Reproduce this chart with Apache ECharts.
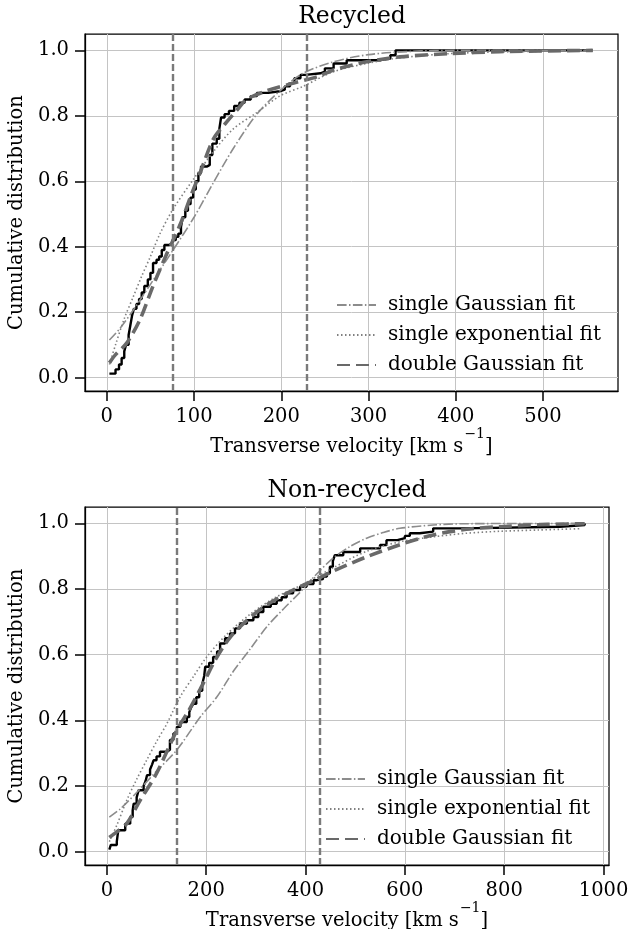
<!DOCTYPE html>
<html><head><meta charset="utf-8">
<script src="https://cdn.jsdelivr.net/npm/echarts@6/dist/echarts.min.js"></script>
<style>html,body{margin:0;padding:0;background:#fff}#c{width:642px;height:929px}</style>
</head><body><div id="c"></div>
<script>
const FONT = '"DejaVu Serif", serif';
const titles = ['Recycled', 'Non-recycled'];
const legendNames = ['single Gaussian fit', 'single exponential fit', 'double Gaussian fit'];
const yTicks = [0, 0.2, 0.4, 0.6, 0.8, 1.0];
const recXTicks = [0, 100, 200, 300, 400, 500];
const nonXTicks = [0, 200, 400, 600, 800, 1000];
const recVLines = [76, 229];
const nonVLines = [140, 428];

// Recycled: empirical CDF (step points) and fits
const recEcdf = [[3,0.012],[10,0.025],[14,0.04],[17,0.06],[20,0.08],[22,0.10],[25,0.13],[27,0.16],[29,0.19],[31,0.21],[34,0.225],[37,0.24],[40,0.26],[43,0.28],[47,0.30],[50,0.32],[53,0.35],[57,0.36],[60,0.37],[63,0.39],[66,0.405],[71,0.41],[75,0.42],[79,0.43],[82,0.44],[85,0.46],[87,0.49],[90,0.51],[93,0.53],[96,0.55],[99,0.575],[102,0.60],[105,0.625],[108,0.645],[115,0.65],[118,0.68],[121,0.715],[126,0.73],[129,0.76],[131,0.795],[135,0.805],[140,0.815],[146,0.83],[152,0.84],[158,0.85],[165,0.86],[172,0.87],[185,0.875],[198,0.88],[204,0.89],[210,0.90],[215,0.915],[222,0.925],[228,0.93],[245,0.935],[250,0.945],[260,0.96],[275,0.97],[314,0.975],[325,0.985],[331,1.0],[557,1.0]];
const recGauss = [[3,0.115],[15,0.15],[30,0.205],[50,0.285],[76,0.39],[100,0.49],[122,0.595],[145,0.70],[172,0.805],[200,0.88],[225,0.93],[260,0.965],[300,0.987],[350,0.997],[400,1.0],[557,1.0]];
const recExp = [[3,0.04],[10,0.10],[20,0.18],[30,0.245],[40,0.31],[50,0.37],[61,0.44],[76,0.515],[99,0.605],[122,0.69],[145,0.76],[172,0.81],[198,0.86],[225,0.89],[260,0.935],[298,0.96],[336,0.977],[393,0.99],[450,0.995],[557,0.999]];
const recDbl = [[3,0.045],[10,0.07],[23,0.106],[38,0.177],[53,0.28],[69,0.38],[76,0.42],[86,0.48],[97,0.56],[107,0.626],[122,0.728],[137,0.78],[150,0.82],[160,0.85],[183,0.876],[214,0.90],[242,0.92],[260,0.94],[298,0.965],[336,0.98],[393,0.99],[450,0.996],[557,1.0]];

// Non-recycled
const nonEcdf = [[5,0.006],[8,0.02],[20,0.03],[23,0.065],[37,0.085],[47,0.105],[52,0.125],[54,0.146],[60,0.165],[64,0.187],[74,0.2],[78,0.215],[81,0.233],[87,0.25],[91,0.265],[94,0.278],[100,0.29],[107,0.304],[121,0.31],[127,0.34],[134,0.36],[141,0.38],[148,0.395],[161,0.41],[166,0.425],[170,0.44],[174,0.45],[180,0.47],[186,0.49],[192,0.51],[196,0.535],[198,0.563],[206,0.575],[214,0.593],[222,0.61],[228,0.634],[238,0.65],[248,0.665],[258,0.68],[268,0.695],[282,0.705],[295,0.715],[305,0.73],[315,0.746],[330,0.755],[342,0.766],[352,0.775],[362,0.787],[375,0.797],[389,0.807],[402,0.815],[416,0.827],[423,0.83],[435,0.838],[443,0.848],[449,0.868],[455,0.885],[459,0.903],[476,0.913],[510,0.924],[550,0.934],[563,0.949],[585,0.955],[600,0.962],[610,0.97],[630,0.975],[657,0.985],[717,0.99],[912,0.995],[962,1.0]];
const nonGauss = [[5,0.105],[27,0.13],[60,0.18],[100,0.245],[141,0.31],[188,0.41],[221,0.47],[255,0.55],[290,0.62],[322,0.685],[356,0.74],[389,0.79],[422,0.845],[456,0.895],[490,0.93],[523,0.955],[556,0.972],[590,0.985],[657,0.995],[720,0.999],[962,1.0]];
const nonExp = [[5,0.03],[20,0.08],[40,0.156],[60,0.22],[80,0.278],[100,0.335],[121,0.39],[147,0.47],[175,0.535],[201,0.593],[240,0.66],[290,0.725],[340,0.775],[389,0.81],[456,0.865],[523,0.915],[590,0.944],[657,0.959],[724,0.97],[791,0.976],[870,0.98],[956,0.984]];
const nonDbl = [[5,0.043],[20,0.06],[40,0.085],[67,0.156],[100,0.238],[141,0.37],[165,0.43],[188,0.495],[200,0.53],[215,0.575],[235,0.625],[255,0.665],[290,0.715],[322,0.752],[360,0.785],[389,0.807],[422,0.83],[456,0.855],[523,0.898],[590,0.935],[657,0.965],[724,0.982],[791,0.99],[870,0.996],[962,0.999]];

const grids = [
  {left: 85, top: 34, width: 533, height: 357},
  {left: 85, top: 507, width: 524, height: 358}
];
const xRanges = [[-25, 586], [-44, 1011]];
const yRange = [-0.041, 1.05];

function xAxisCfg(i, ticks) {
  return {
    gridIndex: i, type: 'value', min: xRanges[i][0], max: xRanges[i][1],
    axisLine: {show: true, onZero: false, lineStyle: {color: '#000', width: 1.25}},
    axisTick: {show: true, customValues: ticks, length: 10, lineStyle: {color: '#000', width: 1.5}},
    axisLabel: {customValues: ticks, margin: 16, color: '#000', fontFamily: FONT, fontSize: 19.5,
      formatter: v => String(v)},
    splitLine: {show: true, lineStyle: {color: '#c4c4c4', width: 1}},
    name: '{a|Transverse velocity [km s}{s|−1}{a|]}',
    nameLocation: 'middle', nameGap: 36, nameMoveOverlap: false,
    nameTextStyle: {rich: {
      a: {fontFamily: FONT, fontSize: 19.5, color: '#000', lineHeight: 30, verticalAlign: 'bottom'},
      s: {fontFamily: FONT, fontSize: 14, color: '#000', lineHeight: 13, verticalAlign: 'top', padding: [0, 0, 0, 1]}
    }}
  };
}
function yAxisCfg(i) {
  return {
    gridIndex: i, type: 'value', min: yRange[0], max: yRange[1],
    axisLine: {show: true, onZero: false, lineStyle: {color: '#000', width: 1.25}},
    axisTick: {show: true, customValues: yTicks, length: 10, lineStyle: {color: '#000', width: 1.5}},
    axisLabel: {customValues: yTicks, margin: 16, color: '#000', fontFamily: FONT, fontSize: 19.5,
      formatter: v => v.toFixed(1)},
    splitLine: {show: true, lineStyle: {color: '#c4c4c4', width: 1}},
    name: 'Cumulative distribution', nameLocation: 'middle', nameGap: 52,
    nameTextStyle: {fontFamily: FONT, fontSize: 19.5, color: '#000'}
  };
}
function panelSeries(i, ecdf, g, e, d, vlines) {
  return [
    {type: 'line', xAxisIndex: i, yAxisIndex: i, data: ecdf, step: 'end', symbol: 'none',
     lineStyle: {color: '#000', width: 2.4}, z: 2,
     markLine: {silent: true, symbol: 'none', label: {show: false},
       lineStyle: {color: '#7a7a7a', width: 2.4, type: [7, 3]},
       data: vlines.map(v => ({xAxis: v}))}},
    {type: 'line', name: legendNames[0], xAxisIndex: i, yAxisIndex: i, data: g, symbol: 'none', smooth: 0.3,
     lineStyle: {color: '#8c8c8c', width: 1.6, type: [9.6, 2.4, 1.5, 2.4]}, itemStyle: {color: '#8c8c8c'}, z: 3},
    {type: 'line', name: legendNames[1], xAxisIndex: i, yAxisIndex: i, data: e, symbol: 'none', smooth: 0.3,
     lineStyle: {color: '#808080', width: 1.6, type: [1.5, 2.5]}, itemStyle: {color: '#808080'}, z: 3},
    {type: 'line', name: legendNames[2], xAxisIndex: i, yAxisIndex: i, data: d, symbol: 'none', smooth: 0.3,
     lineStyle: {color: '#696969', width: 3.6, type: [13, 6]}, itemStyle: {color: '#696969'}, z: 4}
  ];
}
function legendCfg(left, top) {
  return {
    data: legendNames, left: left, top: top, orient: 'vertical', selectedMode: false,
    itemWidth: 39, itemHeight: 14, itemGap: 10,
    itemStyle: {opacity: 0},
    textStyle: {fontFamily: FONT, fontSize: 20, color: '#000', lineHeight: 20, padding: [0, 0, 0, 7]}
  };
}

const chart = echarts.init(document.getElementById('c'), null, {renderer: 'canvas'});
chart.setOption({
  animation: false,
  backgroundColor: '#fff',
  grid: grids.map(g => Object.assign({show: true, borderColor: '#000', borderWidth: 1.25, backgroundColor: 'transparent',
    containLabel: false, outerBoundsMode: 'none'}, g)),
  xAxis: [xAxisCfg(0, recXTicks), xAxisCfg(1, nonXTicks)],
  yAxis: [yAxisCfg(0), yAxisCfg(1)],
  legend: [legendCfg(331, 290), legendCfg(320, 764)],
  graphic: [
    {type: 'text', x: 352, y: 17, style: {text: titles[0], fontFamily: FONT, fontSize: 23.5, fill: '#000', textAlign: 'center', textVerticalAlign: 'middle'}},
    {type: 'text', x: 347, y: 491, style: {text: titles[1], fontFamily: FONT, fontSize: 23.5, fill: '#000', textAlign: 'center', textVerticalAlign: 'middle'}}
  ],
  series: [].concat(
    panelSeries(0, recEcdf, recGauss, recExp, recDbl, recVLines),
    panelSeries(1, nonEcdf, nonGauss, nonExp, nonDbl, nonVLines)
  )
});
</script></body></html>
